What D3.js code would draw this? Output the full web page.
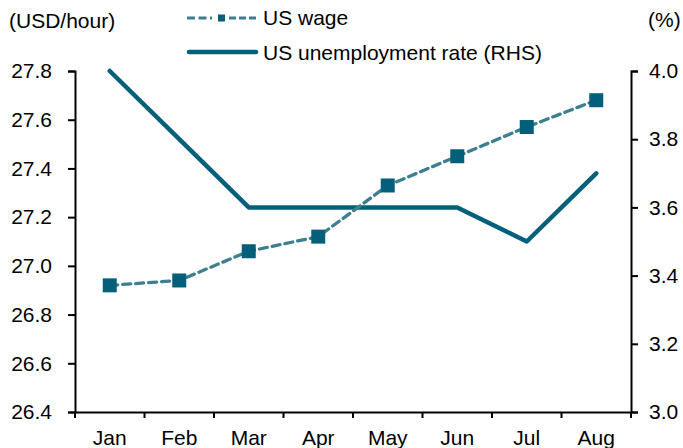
<!DOCTYPE html>
<html>
<head>
<meta charset="utf-8">
<script src="https://cdn.jsdelivr.net/npm/d3@7"></script>
<style>
  html, body { margin: 0; padding: 0; background: #fff; }
  svg { display: block; font-family: "Liberation Sans", Arial, sans-serif; }
</style>
</head>
<body>
<svg id="chart" width="683" height="448"></svg>
<script>
// Monthly categories
const months = ["Jan", "Feb", "Mar", "Apr", "May", "Jun", "Jul", "Aug"];
// Average hourly wage, USD/hour (left axis)
const wage = [26.92, 26.94, 27.06, 27.12, 27.33, 27.45, 27.57, 27.68];
// Unemployment rate, % (right axis)
const unemployment = [4.0, 3.8, 3.6, 3.6, 3.6, 3.6, 3.5, 3.7];
// Axis ticks
const leftTicks = [26.4, 26.6, 26.8, 27.0, 27.2, 27.4, 27.6, 27.8];
const rightTicks = [3.0, 3.2, 3.4, 3.6, 3.8, 4.0];

const svg = d3.select("#chart");
const m = { left: 75, right: 631, top: 71, bottom: 412 };

const x = d3.scaleBand().domain(months).range([m.left, m.right]);
const yL = d3.scaleLinear().domain([26.4, 27.8]).range([m.bottom, m.top]);
const yR = d3.scaleLinear().domain([3.0, 4.0]).range([m.bottom, m.top]);

const fontSize = 21;
const dark = "#04607A";
const light = "#3D7F8F";

// Left axis
const gL = svg.append("g").attr("transform", `translate(${m.left},0)`)
  .call(d3.axisLeft(yL).tickValues(leftTicks).tickFormat(d3.format(".1f")).tickSize(7).tickPadding(16));
// Right axis
const gR = svg.append("g").attr("transform", `translate(${m.right},0)`)
  .call(d3.axisRight(yR).tickValues(rightTicks).tickFormat(d3.format(".1f")).tickSize(7).tickPadding(11));
// Bottom axis: ticks sit between categories
const gX = svg.append("g").attr("transform", `translate(0,${m.bottom})`)
  .call(d3.axisBottom(x).tickSize(0).tickPadding(18));
gX.selectAll(".tick").each(function (d, i) {
  const g = d3.select(this);
  const bw = x.bandwidth();
  g.append("line").attr("class", "sep").attr("x1", -bw / 2).attr("x2", -bw / 2).attr("y1", 0).attr("y2", 6);
  if (i === months.length - 1) {
    g.append("line").attr("class", "sep").attr("x1", bw / 2).attr("x2", bw / 2).attr("y1", 0).attr("y2", 6);
  }
});

[gL, gR, gX].forEach(g => {
  g.select(".domain").attr("stroke", "#000").attr("stroke-width", 2);
  g.selectAll(".tick line").attr("stroke", "#000").attr("stroke-width", 2);
  g.selectAll("text").attr("font-size", fontSize).attr("fill", "#000").attr("font-family", "Liberation Sans, Arial, sans-serif");
});

// Unemployment rate line (solid)
const lineR = d3.line().x((d, i) => x(months[i]) + x.bandwidth() / 2).y(d => yR(d));
svg.append("path").datum(unemployment)
  .attr("d", lineR).attr("fill", "none")
  .attr("stroke", dark).attr("stroke-width", 4.5)
  .attr("stroke-linejoin", "round").attr("stroke-linecap", "round");

// Wage line (dashed) with square markers
const lineL = d3.line().x((d, i) => x(months[i]) + x.bandwidth() / 2).y(d => yL(d));
svg.append("path").datum(wage)
  .attr("d", lineL).attr("fill", "none")
  .attr("stroke", light).attr("stroke-width", 3.3)
  .attr("stroke-dasharray", "8,5").attr("stroke-linecap", "round");
svg.selectAll("rect.wage").data(wage).join("rect").attr("class", "wage")
  .attr("x", (d, i) => x(months[i]) + x.bandwidth() / 2 - 7)
  .attr("y", d => yL(d) - 7)
  .attr("width", 14).attr("height", 14)
  .attr("fill", dark);

// Axis unit labels
svg.append("text").attr("x", 9).attr("y", 28).attr("font-size", fontSize).text("(USD/hour)");
svg.append("text").attr("x", 648).attr("y", 27).attr("font-size", fontSize).text("(%)");

// Legend
const lg = svg.append("g");
lg.append("line").attr("x1", 187).attr("x2", 216).attr("y1", 18).attr("y2", 18)
  .attr("stroke", light).attr("stroke-width", 3).attr("stroke-dasharray", "8,3.5,8,3.5,2,10");
lg.append("line").attr("x1", 229).attr("x2", 257).attr("y1", 18).attr("y2", 18)
  .attr("stroke", light).attr("stroke-width", 3).attr("stroke-dasharray", "7,3");
lg.append("rect").attr("x", 218).attr("y", 14.5).attr("width", 7).attr("height", 7).attr("fill", dark);
lg.append("text").attr("x", 263).attr("y", 25).attr("font-size", fontSize).text("US wage");
lg.append("line").attr("x1", 189).attr("x2", 256).attr("y1", 52).attr("y2", 52)
  .attr("stroke", dark).attr("stroke-width", 4.5).attr("stroke-linecap", "round");
lg.append("text").attr("x", 263).attr("y", 60).attr("font-size", fontSize).text("US unemployment rate (RHS)");
</script>
</body>
</html>
